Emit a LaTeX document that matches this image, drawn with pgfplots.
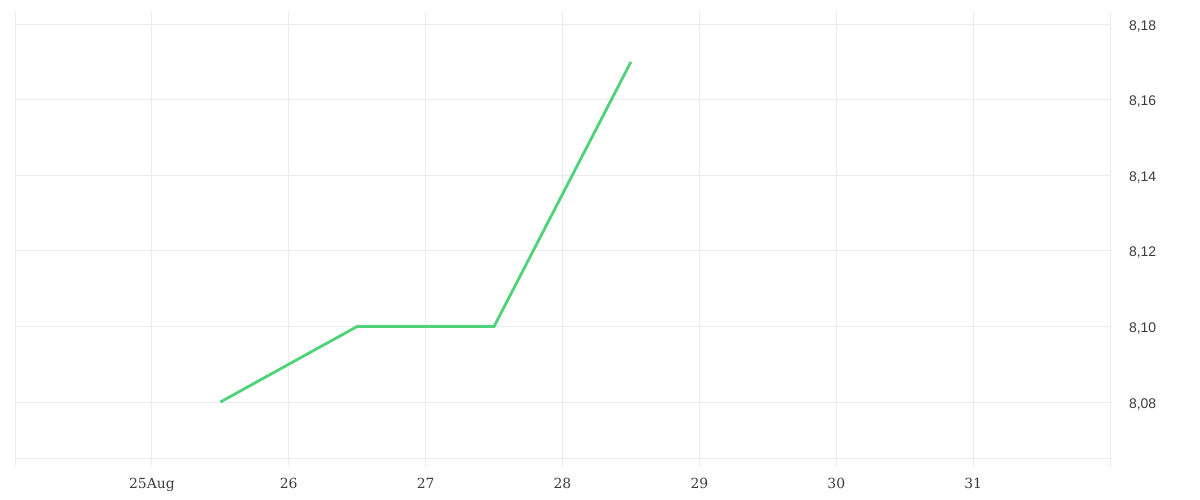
\documentclass[border=0pt]{standalone}
\usepackage{fontspec}
\setmainfont{DejaVu Serif}
\newfontfamily\ysans{Liberation Sans}
\usepackage{pgfplots}
\pgfplotsset{compat=1.18}
\definecolor{gridc}{RGB}{236,236,236}
\definecolor{linec}{RGB}{78,211,121}
\definecolor{labc}{RGB}{60,60,60}
\begin{document}
\begin{tikzpicture}[x=1bp,y=1bp]
\begin{axis}[
  name=ax,
  scale only axis,
  width=547.5bp, height=223bp,
  xmin=24, xmax=32,
  ymin=8.0652, ymax=8.1832,
  xtick={24,25,...,32},
  xticklabels={,25Aug,26,27,28,29,30,31,},
  ytick={8.08,8.10,8.12,8.14,8.16,8.18},
  yticklabels={{8,08},{8,10},{8,12},{8,14},{8,16},{8,18}},
  yticklabel pos=right,
  xtick pos=bottom,
  grid=major,
  major grid style={gridc, line width=0.5bp},
  axis line style={draw=none},
  tick align=outside,
  xtick style={gridc, line width=0.5bp},
  major tick length=4.5bp,
  ytick style={draw=none},
  x tick label style={font=\fontsize{7}{8}\selectfont, text=labc, yshift=-2bp},
  y tick label style={font=\ysans\fontsize{7}{8}\selectfont, text=labc, xshift=1.5bp, yshift=-1bp},
  /pgf/number format/assume math mode=true,
  clip=false,
]
\draw[gridc, line width=0.5bp] (rel axis cs:0,0) -- (rel axis cs:1,0);
\addplot[linec, line width=1.4bp, mark=none] coordinates {
  (25.5,8.08) (26.5,8.10) (27.5,8.10) (28.5,8.17)
};
\end{axis}
\pgfresetboundingbox
\path ([xshift=-7.5bp,yshift=-21bp]ax.south west) rectangle ([xshift=45bp,yshift=6bp]ax.north east);
\end{tikzpicture}
\end{document}
